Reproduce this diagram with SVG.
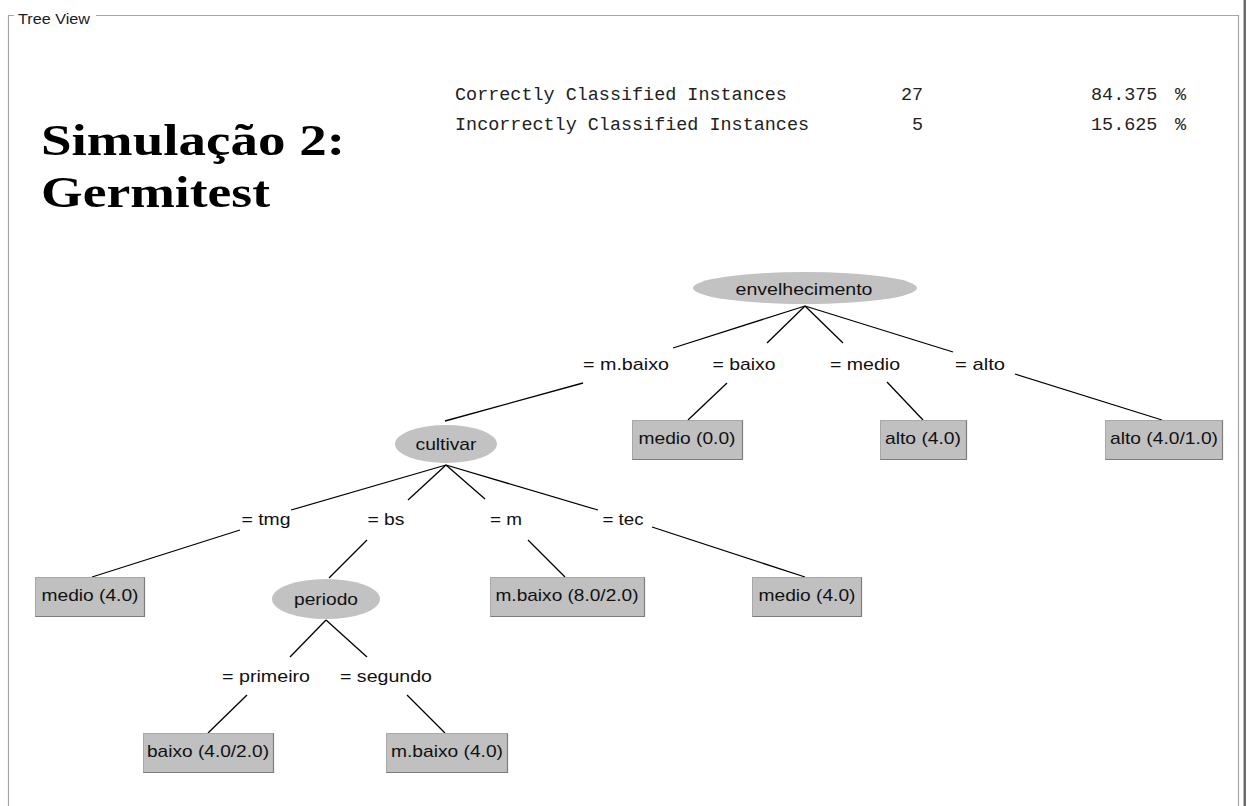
<svg xmlns="http://www.w3.org/2000/svg" width="1247" height="806" viewBox="0 0 1247 806">
  <style>
    .frame { stroke: #a5a5a5; stroke-width: 1.2; fill: none; }
    .edge { stroke: #000; stroke-width: 1.3; fill: none; }
    .split { fill: #c2c2c2; stroke: none; }
    .leaf { fill: #c0c0c0; stroke: #a8a8a8; stroke-width: 1; }
    .leaf-shadow { fill: none; stroke: #7c7c7c; stroke-width: 1.2; }
    .t { font-family: "Liberation Sans", Arial, sans-serif; font-size: 17px; fill: #111; }
    .mid { text-anchor: middle; }
    .mono { font-family: "Liberation Mono", "Courier New", monospace; font-size: 18.45px; fill: #222; }
    .title { font-family: "Liberation Serif", "Times New Roman", serif; font-size: 45px; font-weight: bold; fill: #000; }
  </style>

  <rect x="0" y="0" width="1247" height="806" fill="#fff"/>

  <!-- titled panel border -->
  <g id="panel">
    <polyline class="frame" points="8.5,806 8.5,15.5 14,15.5"/>
    <polyline class="frame" points="96,15.5 1238.5,15.5 1238.5,806"/>
    <rect x="1243.5" y="0" width="2.5" height="806" fill="#6c6c6c"/>
    <text x="18" y="24" style="font-family:'Liberation Sans',Arial,sans-serif;font-size:14.5px;fill:#1a1a2a" textLength="72" lengthAdjust="spacingAndGlyphs">Tree View</text>
  </g>

  <!-- heading -->
  <g id="heading">
    <text class="title" x="41" y="155" textLength="304" lengthAdjust="spacingAndGlyphs">Simulação 2:</text>
    <text class="title" x="41" y="207" textLength="229" lengthAdjust="spacingAndGlyphs">Germitest</text>
  </g>

  <!-- evaluation summary -->
  <g id="summary">
    <text class="mono" x="455" y="100">Correctly Classified Instances</text>
    <text class="mono" x="901" y="100">27</text>
    <text class="mono" x="1091" y="100">84.375</text>
    <text class="mono" x="1175" y="100">%</text>
    <text class="mono" x="455" y="130">Incorrectly Classified Instances</text>
    <text class="mono" x="912" y="130">5</text>
    <text class="mono" x="1091" y="130">15.625</text>
    <text class="mono" x="1175" y="130">%</text>
  </g>

  <!-- connectors -->
  <g id="connectors">
    <!-- envelhecimento -->
    <line class="edge" x1="805" y1="306" x2="673" y2="348"/>
    <line class="edge" x1="805" y1="306" x2="767" y2="343"/>
    <line class="edge" x1="805" y1="306" x2="843" y2="343"/>
    <line class="edge" x1="805" y1="306" x2="953" y2="352"/>
    <line class="edge" x1="583" y1="383" x2="445" y2="421"/>
    <line class="edge" x1="727" y1="383" x2="688" y2="420"/>
    <line class="edge" x1="887" y1="382" x2="923" y2="420"/>
    <line class="edge" x1="1015" y1="374" x2="1162" y2="420"/>
    <!-- cultivar -->
    <line class="edge" x1="446" y1="465" x2="291" y2="510"/>
    <line class="edge" x1="446" y1="465" x2="408" y2="500"/>
    <line class="edge" x1="446" y1="465" x2="485" y2="499"/>
    <line class="edge" x1="446" y1="465" x2="598" y2="510"/>
    <line class="edge" x1="240" y1="530" x2="92" y2="577"/>
    <line class="edge" x1="367" y1="540" x2="329" y2="578"/>
    <line class="edge" x1="528" y1="540" x2="565" y2="577"/>
    <line class="edge" x1="652" y1="527" x2="805" y2="577"/>
    <!-- periodo -->
    <line class="edge" x1="326" y1="620" x2="290" y2="657"/>
    <line class="edge" x1="326" y1="620" x2="367" y2="657"/>
    <line class="edge" x1="247" y1="695" x2="208" y2="733"/>
    <line class="edge" x1="407" y1="695" x2="445" y2="733"/>
  </g>

  <!-- branch labels -->
  <g id="branch-labels" class="t">
    <text class="mid" x="626" y="370" textLength="86" lengthAdjust="spacingAndGlyphs">= m.baixo</text>
    <text class="mid" x="744" y="370" textLength="63" lengthAdjust="spacingAndGlyphs">= baixo</text>
    <text class="mid" x="865" y="370" textLength="70" lengthAdjust="spacingAndGlyphs">= medio</text>
    <text class="mid" x="980" y="370" textLength="50" lengthAdjust="spacingAndGlyphs">= alto</text>
    <text class="mid" x="266" y="525" textLength="49" lengthAdjust="spacingAndGlyphs">= tmg</text>
    <text class="mid" x="386" y="525" textLength="37" lengthAdjust="spacingAndGlyphs">= bs</text>
    <text class="mid" x="506" y="525" textLength="32" lengthAdjust="spacingAndGlyphs">= m</text>
    <text class="mid" x="623" y="525" textLength="41" lengthAdjust="spacingAndGlyphs">= tec</text>
    <text class="mid" x="266" y="682" textLength="88" lengthAdjust="spacingAndGlyphs">= primeiro</text>
    <text class="mid" x="386" y="682" textLength="92" lengthAdjust="spacingAndGlyphs">= segundo</text>
  </g>

  <!-- split nodes -->
  <g id="node-envelhecimento">
    <ellipse class="split" cx="805" cy="288" rx="112" ry="16"/>
    <text class="t mid" x="804" y="295" textLength="137" lengthAdjust="spacingAndGlyphs">envelhecimento</text>
  </g>
  <g id="node-cultivar">
    <ellipse class="split" cx="446" cy="444" rx="51" ry="19"/>
    <text class="t mid" x="446" y="450" textLength="61" lengthAdjust="spacingAndGlyphs">cultivar</text>
  </g>
  <g id="node-periodo">
    <ellipse class="split" cx="326" cy="599" rx="54" ry="20"/>
    <text class="t mid" x="326" y="605" textLength="64" lengthAdjust="spacingAndGlyphs">periodo</text>
  </g>

  <!-- leaf nodes -->
  <g id="leaf-baixo-medio">
    <rect class="leaf" x="632.5" y="420.5" width="110" height="39"/>
    <polyline class="leaf-shadow" points="742.5,420.5 742.5,459.5 632.5,459.5"/>
    <text class="t mid" x="687" y="444" textLength="97" lengthAdjust="spacingAndGlyphs">medio (0.0)</text>
  </g>
  <g id="leaf-medio-alto">
    <rect class="leaf" x="880.5" y="420.5" width="86" height="39"/>
    <polyline class="leaf-shadow" points="966.5,420.5 966.5,459.5 880.5,459.5"/>
    <text class="t mid" x="923" y="444" textLength="76" lengthAdjust="spacingAndGlyphs">alto (4.0)</text>
  </g>
  <g id="leaf-alto-alto">
    <rect class="leaf" x="1105.5" y="420.5" width="117" height="39"/>
    <polyline class="leaf-shadow" points="1222.5,420.5 1222.5,459.5 1105.5,459.5"/>
    <text class="t mid" x="1164" y="444" textLength="108" lengthAdjust="spacingAndGlyphs">alto (4.0/1.0)</text>
  </g>
  <g id="leaf-tmg-medio">
    <rect class="leaf" x="35.5" y="577.5" width="109" height="39"/>
    <polyline class="leaf-shadow" points="144.5,577.5 144.5,616.5 35.5,616.5"/>
    <text class="t mid" x="90" y="601" textLength="97" lengthAdjust="spacingAndGlyphs">medio (4.0)</text>
  </g>
  <g id="leaf-m-mbaixo">
    <rect class="leaf" x="490.5" y="577.5" width="154" height="39"/>
    <polyline class="leaf-shadow" points="644.5,577.5 644.5,616.5 490.5,616.5"/>
    <text class="t mid" x="567" y="601" textLength="143" lengthAdjust="spacingAndGlyphs">m.baixo (8.0/2.0)</text>
  </g>
  <g id="leaf-tec-medio">
    <rect class="leaf" x="752.5" y="577.5" width="109" height="39"/>
    <polyline class="leaf-shadow" points="861.5,577.5 861.5,616.5 752.5,616.5"/>
    <text class="t mid" x="807" y="601" textLength="97" lengthAdjust="spacingAndGlyphs">medio (4.0)</text>
  </g>
  <g id="leaf-primeiro-baixo">
    <rect class="leaf" x="143.5" y="733.5" width="130" height="39"/>
    <polyline class="leaf-shadow" points="273.5,733.5 273.5,772.5 143.5,772.5"/>
    <text class="t mid" x="208" y="757" textLength="122" lengthAdjust="spacingAndGlyphs">baixo (4.0/2.0)</text>
  </g>
  <g id="leaf-segundo-mbaixo">
    <rect class="leaf" x="386.5" y="733.5" width="121" height="39"/>
    <polyline class="leaf-shadow" points="507.5,733.5 507.5,772.5 386.5,772.5"/>
    <text class="t mid" x="447" y="757" textLength="112" lengthAdjust="spacingAndGlyphs">m.baixo (4.0)</text>
  </g>
</svg>
